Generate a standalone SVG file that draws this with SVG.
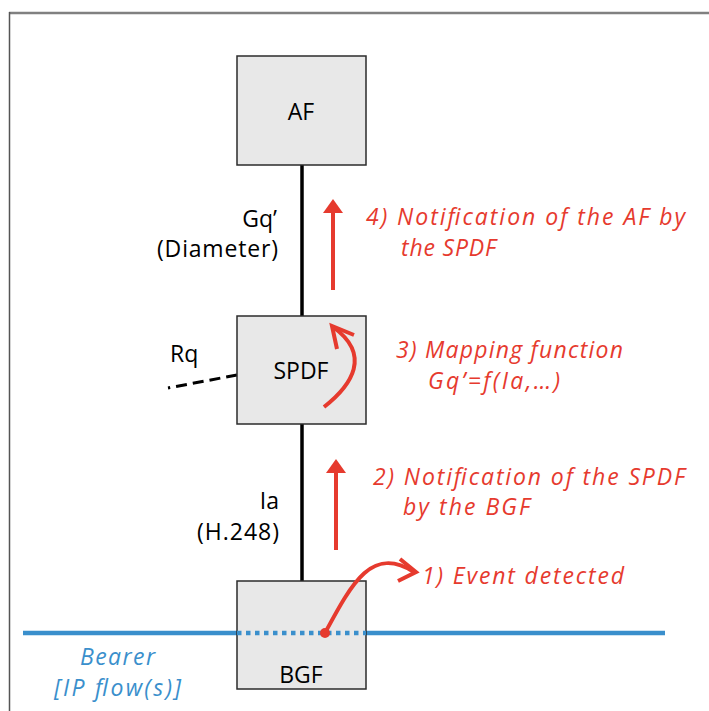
<svg xmlns="http://www.w3.org/2000/svg" width="709" height="711" viewBox="0 0 709 711">
<style>
.box{fill:#e8e8e8;stroke:#2b2b2b;stroke-width:1.5}
.lbl{font-family:"Open Sans","Liberation Sans",sans-serif;font-size:23px;fill:#000}
.red{font-family:"Open Sans","Liberation Sans",sans-serif;font-size:23px;font-style:italic;fill:#e63a2e}
.blue{font-family:"Open Sans","Liberation Sans",sans-serif;font-size:23px;font-style:italic;fill:#3a8fcc}
.ifc{stroke:#000;stroke-width:3.5;fill:none}
.rarr{stroke:#e63a2e;stroke-width:4;fill:none}
</style>
<rect width="709" height="711" fill="#fff"/>
<g id="frame">
<line x1="9" y1="13" x2="709" y2="13" stroke="#808080" stroke-width="2.5"/>
<line x1="9.5" y1="12" x2="9.5" y2="711" stroke="#555" stroke-width="1.5"/>
</g>
<g id="connectors">
<line class="ifc" x1="302" y1="165" x2="302" y2="316"/>
<line class="ifc" x1="302" y1="424" x2="302" y2="581"/>
<line x1="237" y1="375" x2="168" y2="388" stroke="#000" stroke-width="3" stroke-dasharray="11 6"/>
<line x1="23" y1="633" x2="237" y2="633" stroke="#3a8fcc" stroke-width="4.5"/>
<line x1="366" y1="633" x2="665" y2="633" stroke="#3a8fcc" stroke-width="4.5"/>
</g>
<g id="AF">
<rect class="box" x="237" y="56" width="129" height="109"/>
<text class="lbl" x="301" y="120" text-anchor="middle" font-size="24">AF</text>
</g>
<g id="SPDF">
<rect class="box" x="237" y="316" width="129" height="108"/>
<text class="lbl" x="301" y="379" text-anchor="middle" font-size="24">SPDF</text>
</g>
<g id="BGF">
<rect class="box" x="237" y="581" width="129" height="108"/>
<text class="lbl" x="301" y="683" text-anchor="middle" font-size="24">BGF</text>
<line x1="237" y1="633" x2="366" y2="633" stroke="#3a8fcc" stroke-width="4.5" stroke-dasharray="4.5 4.5"/>
</g>
<g id="labels">
<text class="lbl" x="277" y="227" text-anchor="end">Gq’</text>
<text class="lbl" x="278" y="257" text-anchor="end" textLength="121">(Diameter)</text>
<text class="lbl" x="279" y="509" text-anchor="end">Ia</text>
<text class="lbl" x="279" y="540" text-anchor="end" textLength="82">(H.248)</text>
<text class="lbl" x="170" y="362">Rq</text>
<text class="blue" x="80" y="665" textLength="75">Bearer</text>
<text class="blue" x="54" y="696" textLength="127">[IP flow(s)]</text>
</g>
<g id="steps">
<line class="rarr" x1="333" y1="290" x2="333" y2="210"/>
<polygon points="323,213 343,213 333,199" fill="#e63a2e"/>
<line class="rarr" x1="336" y1="550" x2="336" y2="470"/>
<polygon points="326,473 346,473 336,459" fill="#e63a2e"/>
<path class="rarr" d="M324 407 C352 385 372 355 333 327" stroke-width="3.5"/>
<path class="rarr" d="M337 349 L332 326 L354 335" stroke-width="3.5"/>
<path class="rarr" d="M325 633 C352 583 372 545 414 572" stroke-width="3.5"/>
<path class="rarr" d="M400 559 L416 572 L398 581" stroke-width="3.5"/>
<circle cx="325" cy="633" r="5" fill="#e63a2e"/>
<text class="red" x="366" y="225" textLength="319">4) Notification of the AF by</text>
<text class="red" x="401" y="256" textLength="95">the SPDF</text>
<text class="red" x="396" y="358" textLength="227">3) Mapping function</text>
<text class="red" x="428" y="389" textLength="132">Gq’=f(Ia,…)</text>
<text class="red" x="373" y="485" textLength="312">2) Notification of the SPDF</text>
<text class="red" x="403" y="515" textLength="127">by the BGF</text>
<text class="red" x="422" y="584" textLength="202">1) Event detected</text>
</g>
</svg>
